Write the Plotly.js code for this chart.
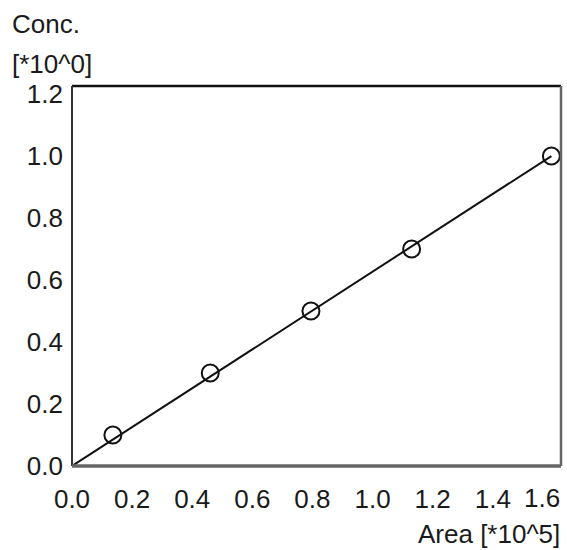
<!DOCTYPE html>
<html>
<head>
<meta charset="utf-8">
<script src="https://cdn.plot.ly/plotly-3.0.1.min.js"></script>
<style>html,body{margin:0;padding:0;background:#fff;}#chart{width:567px;height:550px;}</style>
</head>
<body>
<div id="chart"></div>
<script>
// Calibration standards: peak area (*10^5) vs concentration (*10^0)
const areaValues = [0.136, 0.46, 0.795, 1.13, 1.595];
const concValues = [0.1, 0.3, 0.5, 0.7, 1.0];
// Calibration line end points
const fitArea = [0.0, 1.595];
const fitConc = [0.0, 1.0];
const tickVals = [0.0, 0.2, 0.4, 0.6, 0.8, 1.0, 1.2, 1.4, 1.6];
const tickText = ['0.0', '0.2', '0.4', '0.6', '0.8', '1.0', '1.2', '1.4', '1.6'];
const yTickVals = [0.0, 0.2, 0.4, 0.6, 0.8, 1.0, 1.2];
const yTickText = ['0.0', '0.2', '0.4', '0.6', '0.8', '1.0', '1.2'];

const FONT = '"Liberation Sans", Arial, Helvetica, sans-serif';
const FS = 26;
const COLOR = '#1a1a1a';

// The last x tick label sits flush with the right frame edge in the reference,
// so it is drawn as an annotation anchored at its tick value.
const lastIdx = tickVals.length - 1;
const xTickTextShown = tickText.map((t, i) => i === lastIdx ? '' : t);

const traces = [
  {x: fitArea, y: fitConc, mode: 'lines', line: {color: '#111', width: 2}, hoverinfo: 'skip'},
  {x: areaValues, y: concValues, mode: 'markers',
   marker: {symbol: 'circle-open', size: 17, color: '#111', line: {width: 2, color: '#111'}}}
];

const layout = {
  width: 567, height: 550,
  margin: {l: 72, r: 6, t: 86, b: 84},
  showlegend: false,
  paper_bgcolor: '#fff', plot_bgcolor: '#fff',
  font: {family: FONT, size: FS, color: COLOR},
  xaxis: {
    range: [0, 1.627], tickvals: tickVals, ticktext: xTickTextShown,
    showgrid: false, zeroline: false, showline: false, ticks: '',
    ticklabelstandoff: 15, tickfont: {family: FONT, size: FS, color: COLOR}
  },
  yaxis: {
    range: [0, 1.226], tickvals: yTickVals, ticktext: yTickText,
    showgrid: false, zeroline: false, showline: false, ticks: '',
    ticklabelstandoff: 8, tickfont: {family: FONT, size: FS, color: COLOR}
  },
  shapes: [
    {type: 'line', xref: 'paper', yref: 'paper', x0: 0, x1: 1, y0: 1, y1: 1, line: {color: '#111', width: 2.5}},
    {type: 'line', xref: 'paper', yref: 'paper', x0: 0, x1: 0, y0: 0, y1: 1, line: {color: '#333', width: 2}},
    {type: 'line', xref: 'paper', yref: 'paper', x0: 1, x1: 1, y0: 0, y1: 1, line: {color: '#666', width: 2.5}},
    {type: 'line', xref: 'paper', yref: 'paper', x0: 0, x1: 1, y0: 0, y1: 0, line: {color: '#666', width: 3.5}}
  ],
  annotations: [
    {text: tickText[lastIdx], xref: 'x', yref: 'paper', x: tickVals[lastIdx], xshift: 9, y: -0.083, xanchor: 'right', yanchor: 'middle', showarrow: false, font: {family: FONT, size: FS, color: COLOR}},
    {text: 'Conc.', xref: 'paper', yref: 'paper', x: -0.127, y: 1.163, xanchor: 'left', yanchor: 'middle', showarrow: false, font: {family: FONT, size: FS, color: COLOR}},
    {text: '[*10^0]', xref: 'paper', yref: 'paper', x: -0.127, y: 1.058, xanchor: 'left', yanchor: 'middle', showarrow: false, font: {family: FONT, size: FS, color: COLOR}},
    {text: 'Area [*10^5]', xref: 'paper', yref: 'paper', x: 1.002, y: -0.179, xanchor: 'right', yanchor: 'middle', showarrow: false, font: {family: FONT, size: FS, color: COLOR}}
  ]
};

Plotly.newPlot('chart', traces, layout, {displayModeBar: false, staticPlot: true});
</script>
</body>
</html>
